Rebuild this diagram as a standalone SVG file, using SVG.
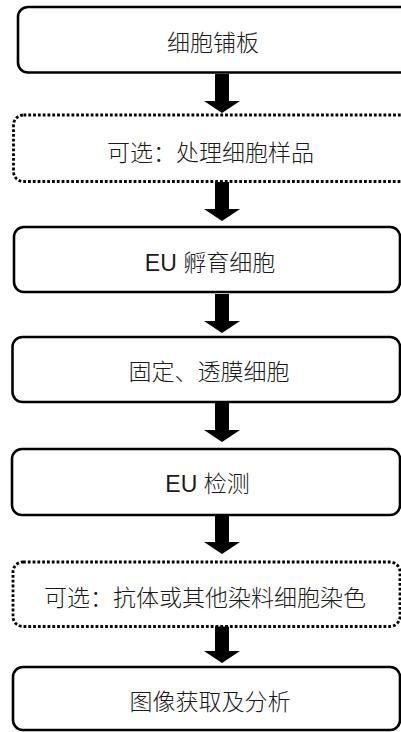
<svg xmlns="http://www.w3.org/2000/svg" width="401" height="732" viewBox="0 0 401 732">
<style>
.box{fill:#ffffff;stroke:#000000;stroke-width:2.6}
.opt{fill:#ffffff;stroke:#000000;stroke-width:2.8;stroke-dasharray:2.8 2}
.lbl{font-family:"Liberation Sans","Noto Sans CJK SC",sans-serif;font-size:23px;font-weight:300;fill:#1a1a1a;text-anchor:middle}
.arr{fill:#000000}
</style>
<defs>
<path id="arrow" d="M-7,0 H7 V27 H18 L0,39 L-18,27 H-7 Z"/>
</defs>
<rect width="401" height="732" fill="#ffffff"/>
<g id="connectors">
<use href="#arrow" class="arr" x="222" y="74"/>
<use href="#arrow" class="arr" x="222" y="182"/>
<use href="#arrow" class="arr" x="222" y="294"/>
<use href="#arrow" class="arr" x="222" y="403"/>
<use href="#arrow" class="arr" x="222" y="515"/>
<use href="#arrow" class="arr" x="222" y="624"/>
</g>
<g id="n1">
<rect class="box" x="18" y="7" width="400" height="65.5" rx="10"/>
<text class="lbl" x="213" y="51">细胞铺板</text>
</g>
<g id="n2">
<rect class="opt" x="13.5" y="115" width="400" height="66.5" rx="10"/>
<text class="lbl" x="210.5" y="161">可选：处理细胞样品</text>
</g>
<g id="n3">
<rect class="box" x="14" y="227" width="386" height="65" rx="10"/>
<text class="lbl" x="210" y="271">EU 孵育细胞</text>
</g>
<g id="n4">
<rect class="box" x="12.5" y="337" width="387.5" height="65" rx="10"/>
<text class="lbl" x="209" y="380">固定、透膜细胞</text>
</g>
<g id="n5">
<rect class="box" x="12" y="449" width="388" height="66" rx="10"/>
<text class="lbl" x="207.5" y="492">EU 检测</text>
</g>
<g id="n6">
<rect class="opt" x="13" y="562" width="387" height="64.5" rx="10"/>
<text class="lbl" x="205" y="606">可选：抗体或其他染料细胞染色</text>
</g>
<g id="n7">
<rect class="box" x="13" y="667" width="387" height="63" rx="10"/>
<text class="lbl" x="210" y="710">图像获取及分析</text>
</g>
</svg>
